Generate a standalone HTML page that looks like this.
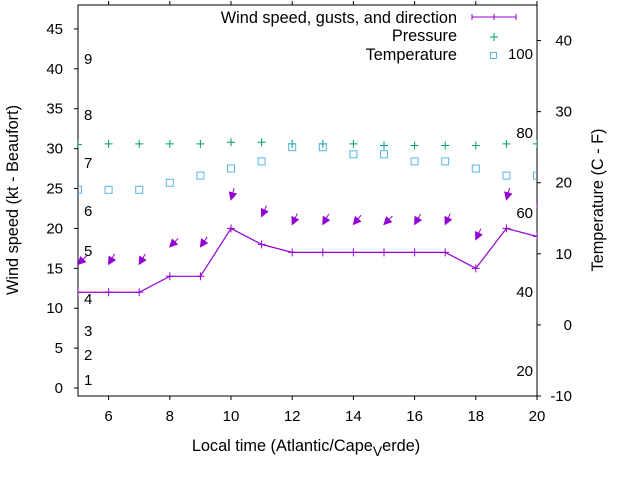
<!DOCTYPE html>
<html><head><meta charset="utf-8"><style>
body{margin:0;background:#fff}
svg{display:block;font-family:"Liberation Sans",sans-serif}
</style></head><body>
<svg id="c" width="640" height="480" xmlns="http://www.w3.org/2000/svg"></svg>
<script>
const hours=[5,6,7,8,9,10,11,12,13,14,15,16,17,18,19,20];
const windSpeed=[12,12,12,14,14,20,18,17,17,17,17,17,17,15,20,19];
const gusts=[15.5,15.5,15.5,17.7,17.7,23.6,21.5,20.5,20.5,20.5,20.5,20.5,20.5,18.6,23.6,22.6];
const windDir=[45,30,30,45,35,15,25,25,30,40,45,30,25,25,15,25];
const pressure=[30.5,30.6,30.6,30.6,30.6,30.8,30.8,30.6,30.6,30.6,30.4,30.4,30.4,30.4,30.6,30.6];
const tempC=[19,19,19,20,21,22,23,25,25,24,24,23,23,22,21,21];
const xTicks=[6,8,10,12,14,16,18,20];
const yTicks=[0,5,10,15,20,25,30,35,40,45];
const y2Ticks=[-10,0,10,20,30,40];
const beaufort=[[1,380],[2,355],[3,331],[4,299],[5,251],[6,211],[7,163],[8,115],[9,59]];
const fahr=[[100,54],[80,133],[60,213],[40,292],[20,371]];

const L=78,R=537,T=5,B=396;
const FS=15, TS=16.3;
const X=v=>L+(v-5)/15*(R-L);
const Y=v=>B-(v+1)/49*(B-T);
const Y2=v=>B-(v+10)/55*(B-T);
const svg=document.getElementById('c');
const NS='http://www.w3.org/2000/svg';
function el(tag,a,txt){const e=document.createElementNS(NS,tag);for(const k in a)e.setAttribute(k,a[k]);if(txt!==undefined)e.textContent=txt;svg.appendChild(e);return e;}

let e=el('rect',{x:L,y:T,width:R-L,height:B-T,fill:'none',stroke:'#000','stroke-width':1});



xTicks.forEach(v=>{
  let t=el('line',{x1:X(v),x2:X(v),y1:B,y2:B+4,stroke:'#000'});
  
  
  el('line',{x1:X(v),x2:X(v),y1:T,y2:T-4,stroke:'#000'});
  let l=el('text',{x:X(v),y:B+25,'text-anchor':'middle','font-size':FS},v);
  
  
});
yTicks.forEach(v=>{
  el('line',{x1:L-4,x2:L,y1:Y(v),y2:Y(v),stroke:'#000'});
  let l=el('text',{x:L-15,y:Y(v)+5,'text-anchor':'end','font-size':FS},v);
  
  
});
y2Ticks.forEach(v=>{
  el('line',{x1:R,x2:R+4,y1:Y2(v),y2:Y2(v),stroke:'#000'});
  let l=el('text',{x:R+35,y:Y2(v)+5,'text-anchor':'end','font-size':FS},v);
  
  
});
beaufort.forEach(b=>{
  let l=el('text',{x:84,y:b[1]+5,'font-size':FS},b[0]);
  
  
});
fahr.forEach(f=>{
  let l=el('text',{x:533,y:f[1]+5,'text-anchor':'end','font-size':FS},f[0]);
  
  
});

e=el('text',{x:0,y:0,'font-size':TS,'text-anchor':'middle',transform:'translate(18,200) rotate(-90)'},'Wind speed (kt - Beaufort)');


e=el('text',{x:0,y:0,'font-size':TS,'text-anchor':'middle',transform:'translate(603,200) rotate(-90)'},'Temperature (C - F)');


e=el('text',{x:306,y:451,'font-size':TS,'text-anchor':'middle'});
e.innerHTML='Local time (Atlantic/Cape<tspan dy="5" font-size="14">V</tspan><tspan dy="-5">erde)</tspan>';



const defs=el('defs',{});
defs.innerHTML='<clipPath id="cp"><rect x="'+L+'" y="'+T+'" width="'+(R-L)+'" height="'+(B-T)+'"/></clipPath>';
const g=document.createElementNS(NS,'g');g.setAttribute('clip-path','url(#cp)');svg.appendChild(g);
function gel(tag,a){const e=document.createElementNS(NS,tag);for(const k in a)e.setAttribute(k,a[k]);g.appendChild(e);return e;}

const wc='#9400d3';
e=gel('polyline',{points:hours.map((h,i)=>X(h)+','+Y(windSpeed[i])).join(' '),fill:'none',stroke:wc,'stroke-width':1.2});


hours.forEach((h,i)=>{
  const x=X(h),y=Y(windSpeed[i]);
  let p=gel('path',{d:`M${x-4},${y}H${x+4}M${x},${y-4}V${y+4}`,stroke:wc,'stroke-width':1});
  
  
  const gx=X(h),gy=Y(gusts[i]);const a=windDir[i]*Math.PI/180;
  const tx=gx+12*Math.sin(a),ty=gy-12*Math.cos(a);
  const ux=Math.sin(a),uy=-Math.cos(a);
  const bx=gx+7*ux,by=gy+7*uy;
  const h1x=bx+3.5*uy,h1y=by-3.5*ux,h2x=bx-3.5*uy,h2y=by+3.5*ux;
  let ar=gel('path',{d:`M${tx},${ty}L${gx},${gy}M${gx},${gy}L${h1x},${h1y}L${h2x},${h2y}Z`,stroke:wc,fill:wc,'stroke-width':1});
  
  
  const px=X(h),py=Y(pressure[i]);
  let pp=gel('path',{d:`M${px-4},${py}H${px+4}M${px},${py-4}V${py+4}`,stroke:'#009e73','stroke-width':1});
  
  
  let s=gel('rect',{x:X(h)-3.5,y:Y2(tempC[i])-3.5,width:7,height:7,fill:'none',stroke:'#56b4e9','stroke-width':1});
  
  
});

e=el('text',{x:457,y:23,'text-anchor':'end','font-size':TS},'Wind speed, gusts, and direction');


el('path',{d:'M472,17H516M472,14V20M494,14V20M516,14V20',stroke:wc,'stroke-width':1,fill:'none'});
e=el('text',{x:457,y:41,'text-anchor':'end','font-size':TS},'Pressure');


el('path',{d:'M490,37H498M494,33V41',stroke:'#009e73'});
e=el('text',{x:457,y:60,'text-anchor':'end','font-size':TS},'Temperature');


el('rect',{x:490.5,y:52.5,width:6,height:6,fill:'none',stroke:'#56b4e9'});
</script>
</body></html>
